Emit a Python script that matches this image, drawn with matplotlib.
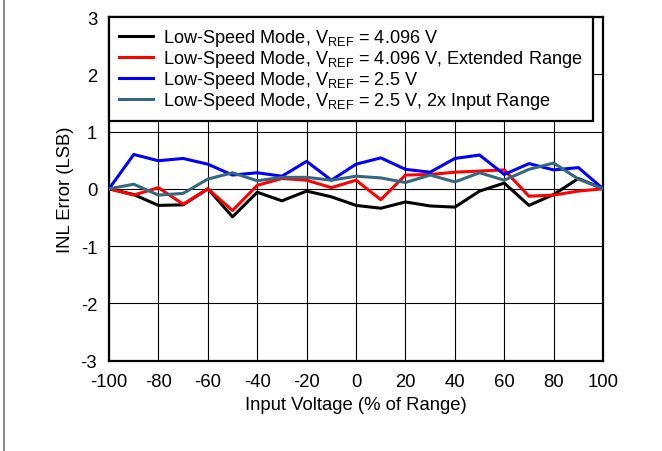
import matplotlib
matplotlib.use("Agg")
import matplotlib.pyplot as plt
from matplotlib.lines import Line2D

plt.rcParams['font.family'] = ['Liberation Sans', 'DejaVu Sans']
plt.rcParams['mathtext.fontset'] = 'custom'
plt.rcParams['mathtext.rm'] = 'Liberation Sans'
plt.rcParams['axes.unicode_minus'] = False

# Input voltage sweep (% of range)
input_pct = [-100, -90, -80, -70, -60, -50, -40, -30, -20, -10, 0,
             10, 20, 30, 40, 50, 60, 70, 80, 90, 100]

# INL error (LSB) per mode
inl_4096 = [0.0, -0.10, -0.29, -0.28, 0.0, -0.49, -0.06, -0.21, -0.04, -0.14, -0.29,
            -0.34, -0.23, -0.30, -0.32, -0.04, 0.10, -0.29, -0.10, 0.18, 0.0]
inl_4096_ext = [0.0, -0.11, 0.02, -0.27, 0.0, -0.38, 0.06, 0.18, 0.15, 0.02, 0.15,
                -0.19, 0.24, 0.25, 0.29, 0.31, 0.33, -0.13, -0.11, -0.04, 0.0]
inl_25 = [0.0, 0.60, 0.49, 0.53, 0.43, 0.24, 0.28, 0.22, 0.48, 0.15, 0.43,
          0.54, 0.34, 0.29, 0.53, 0.59, 0.25, 0.44, 0.33, 0.37, 0.0]
inl_25_2x = [0.0, 0.08, -0.11, -0.08, 0.17, 0.28, 0.14, 0.20, 0.20, 0.15, 0.22,
             0.19, 0.11, 0.24, 0.12, 0.28, 0.15, 0.34, 0.45, 0.17, 0.0]

series = [
    (inl_4096, "black", r"Low-Speed Mode, V$_{\mathregular{REF}}$ = 4.096 V"),
    (inl_4096_ext, "#ff0000", r"Low-Speed Mode, V$_{\mathregular{REF}}$ = 4.096 V, Extended Range"),
    (inl_25, "#0000ff", r"Low-Speed Mode, V$_{\mathregular{REF}}$ = 2.5 V"),
    (inl_25_2x, "#34687e", r"Low-Speed Mode, V$_{\mathregular{REF}}$ = 2.5 V, 2x Input Range"),
]

fig = plt.figure(figsize=(6.62, 4.52), dpi=100)
ax = fig.add_axes([0.1647, 0.2002, 0.7463, 0.7598])

for y, color, label in series:
    ax.plot(input_pct, y, color=color, lw=2.2, label=label, zorder=3)

ax.set_xlim(-100, 100)
ax.set_ylim(-3, 3)
ax.set_xticks(range(-100, 101, 20))
ax.set_yticks(range(-3, 4))
ax.grid(True, color="black", lw=0.8)
ax.tick_params(length=0, labelsize=13.3)
ax.tick_params(axis="x", pad=9)
ax.tick_params(axis="y", pad=8.5)
for s in ax.spines.values():
    s.set_linewidth(1.6)

ax.set_xlabel("Input Voltage (% of Range)", fontsize=13.3, labelpad=4)
ax.set_ylabel("INL Error (LSB)", fontsize=13.3, labelpad=5)

leg = ax.legend(loc="upper left", borderaxespad=0, fontsize=13.1,
                handlelength=1.87, handletextpad=0.55, labelspacing=0.0,
                borderpad=0.55, fancybox=False, framealpha=1, edgecolor="black")
leg.get_frame().set_linewidth(1.6)
leg.set_zorder(5)

# gray frame around the figure
fig.add_artist(Line2D([0.0053, 0.0053], [0, 1], color="#777777", lw=1.2, transform=fig.transFigure))
fig.add_artist(Line2D([0, 1], [0.999, 0.999], color="#777777", lw=1.2, transform=fig.transFigure))

fig.savefig("out.png", dpi=100)
